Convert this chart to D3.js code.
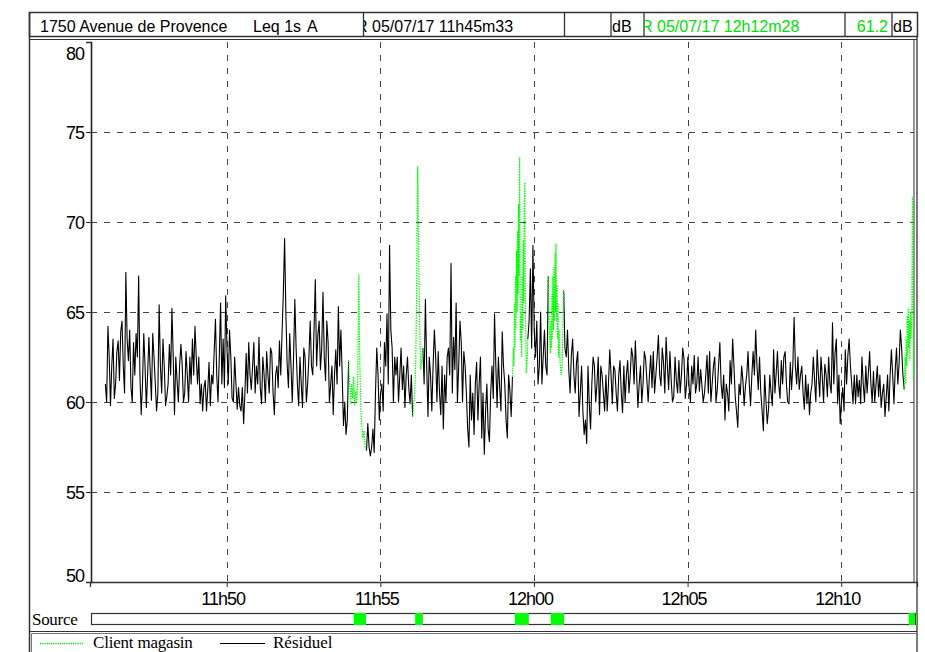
<!DOCTYPE html>
<html><head><meta charset="utf-8">
<script src="https://cdn.jsdelivr.net/npm/d3@7"></script>
<style>body{margin:0;background:#fff}svg{display:block}</style>
</head><body>
<svg id="c" width="925" height="652"></svg>
<script>
// ---------- data ----------
const titleText = "1750 Avenue de Provence";
const metricText = "Leq 1s";
const weightText = "A";
const startText = "R 05/07/17 11h45m33";
const endText = "R 05/07/17 12h12m28";
const laeqText = "61.2";
const unitText = "dB";
const yTicks = [50, 55, 60, 65, 70, 75, 80];
const xTickSec = [267, 567, 867, 1167, 1467];           // seconds after 11h45m33
const xTickLabels = ["11h50", "11h55", "12h00", "12h05", "12h10"];
const totalSec = 1615;                                  // 11h45m33 -> 12h12m28
const legendNames = ["Client magasin", "Résiduel"];

// Résiduel: one value every 5 s from 30 s after start (null = source period)
const residualStart = 30, residualStep = 5;
const residual = [
61.0,64.2,59.8,63.5,61.0,63.4,63.9,62.0,67.2,62.3,60.8,63.3,63.8,67.0,59.3,63.8,59.7,63.6,60.1,62.5,
59.5,65.4,60.5,62.0,60.3,63.2,65.2,59.3,61.2,62.0,62.1,60.5,61.5,62.5,
63.5,64.2,61.0,59.9,59.5,61.2,60.7,59.8,61.0,64.6,60.0,65.5,63.5,65.9,61.0,62.5,60.0,61.0,60.8,59.5,
58.8,62.7,63.3,60.7,63.3,62.0,63.6,59.9,61.5,62.8,60.5,62.7,59.3,62.0,63.4,63.8,69.1,62.1,63.8,60.0,
65.7,61.0,62.5,59.7,62.5,61.0,64.5,61.5,66.8,63.7,61.8,66.1,61.2,63.3,61.0,59.3,62.9,65.3,64.0,58.7,
58.2,62.3,null,null,null,null,null,null,57.3,57.5,57.5,57.2,63.0,59.0,61.0,63.3,64.9,68.7,63.0,62.5,
62.5,61.5,60.7,59.7,62.5,59.9,59.2,null,null,null,
63.0,65.7,59.2,61.5,62.0,62.5,62.8,59.3,58.5,60.0,63.0,67.7,63.6,65.5,62.0,63.3,62.8,60.5,57.5,59.0,
58.2,62.2,61.0,58.0,57.1,61.0,57.8,62.0,64.9,59.7,60.8,63.9,
61.0,58.0,60.6,61.4,null,null,null,null,null,63.5,67.4,68.7,62.5,61.0,65.0,62.5,62.0,67.0,
null,null,null,null,null,66.2,62.5,61.8,62.6,61.5,62.2,59.2,62.0,58.2,57.7,59.9,61.0,62.0,61.0,59.3,61.5,59.5,
59.5,62.9,59.9,61.8,59.5,62.3,59.4,60.0,62.3,61.5,62.5,63.4,59.7,62.0,61.0,62.4,60.0,62.6,62.8,61.5,
63.7,60.9,62.2,63.6,60.7,61.2,60.3,61.2,62.3,61.5,62.4,61.0,60.8,62.0,62.6,61.0,60.6,60.9,60.5,62.6,62.8,
61.0,62.5,60.7,63.3,60.2,59.0,60.5,62.3,63.5,60.3,58.6,60.4,61.2,60.9,62.8,59.8,62.8,64.0,60.7,60.5,
58.4,60.1,59.6,60.5,62.9,61.6,61.0,62.3,62.5,61.0,59.9,60.7,64.7,61.0,60.7,62.0,59.6,59.9,59.3,61.0,
61.2,62.9,60.3,61.4,62.1,60.3,61.0,64.4,62.7,59.9,58.8,60.8,62.9,62.6,62.0,59.9,59.9,60.3,59.9,61.0,
62.0,61.6,61.0,61.7,61.0,60.3,59.7,61.0,60.3,59.5,62.9,59.9,63.0,62.1,63.0,60.7
];
// Résiduel values read between the samples above (2.5 s later each)
const residualMid = [
60.0,62.5,62.0,60.2,62.8,61.2,64.5,60.5,63.5,64.0,60.0,61.5,62.5,61.5,61.0,62.0,61.5,61.8,63.8,61.0,
60.5,62.0,63.5,59.8,61.0,61.5,62.5,62.5,60.0,63.2,60.0,62.8,60.0,61.0,
61.5,62.5,62.5,61.0,60.8,59.5,62.2,61.5,62.8,61.5,62.5,61.0,60.8,63.0,64.0,60.2,62.5,59.6,59.8,60.8,
60.5,60.5,61.5,62.0,60.5,61.0,60.8,62.5,60.0,61.5,63.0,60.5,61.5,60.8,61.5,66.0,65.0,60.8,62.0,62.5,
63.0,59.8,61.0,63.0,60.0,62.5,62.0,64.0,62.0,64.5,63.0,62.5,64.5,60.0,62.0,61.5,61.0,62.0,61.5,60.0,59.0,
null,null,null,null,null,null,null,
58.8,57.0,58.5,60.5,61.5,60.5,59.5,62.0,61.0,64.0,60.0,61.5,
60.0,63.0,62.0,61.5,60.8,61.5,null,null,null,null,
61.0,62.0,62.5,59.5,64.0,60.0,60.5,62.0,61.5,62.5,61.5,60.5,61.8,60.0,64.5,60.0,62.0,58.5,61.5,60.5,
61.0,59.0,62.5,60.5,59.5,58.5,60.5,60.2,62.0,62.5,59.5,62.0,
59.0,61.5,59.2,null,null,null,null,null,null,64.5,63.0,64.0,64.5,62.0,61.0,64.0,61.5,
null,null,null,null,null,null,
63.0,64.0,60.5,63.5,60.5,62.8,60.5,59.5,59.0,62.0,58.5,62.5,60.0,62.5,62.0,60.5,61.5,
61.0,61.5,62.0,60.5,61.5,60.5,62.0,61.5,60.5,63.0,61.0,61.5,61.0,60.0,62.8,61.2,61.5,60.8,60.5,62.5,
61.5,63.0,60.5,62.0,62.8,60.0,62.5,60.5,60.5,63.0,60.2,62.5,60.0,61.0,60.5,62.5,61.8,60.0,61.5,60.5,60.0,
62.0,60.0,62.0,61.0,61.5,61.0,59.5,61.0,62.0,59.5,61.0,62.0,59.8,61.5,61.0,61.5,61.5,62.0,62.5,59.5,
61.5,58.8,61.5,59.8,60.5,62.8,60.2,61.0,62.8,60.0,62.2,62.0,62.0,62.5,61.5,60.5,61.5,61.0,60.5,62.5,
60.0,61.5,62.5,60.0,61.5,62.5,60.5,61.0,63.5,61.5,60.0,59.5,61.0,63.5,61.0,61.5,61.5,61.2,62.5,60.0,
60.5,62.8,60.0,60.0,62.0,61.5,60.5,59.2,61.5,61.5,61.5,61.8,61.0,64.0,61.5
];

// Client magasin periods (seconds, dB); null separates periods
const clientT = [
505,509,511,513,515,517,519,521,523,525,527,529,531,533,535,537,540, null,
630,632,634,636,638,640,642,644,646,648,650, null,
825,827,828,829,830,831,832,833,834,835,836,837,838,839,840,841,842,843,844,845,846,847,848,849,850,851,852,854,855, null,
895,897,899,900,901,902,903,904,905,906,907,908,909,910,911,912,913,914,915,916,918,920,922,925, null,
1590,1592,1593,1594,1595,1596,1597,1598,1599,1600,1601,1602,1603,1604,1605,1606,1607,1608
];
const clientV = [
62.3,59.9,61.0,60.2,61.4,59.8,60.6,60.0,61.5,67.1,62.0,59.5,58.6,58.0,58.4,57.5,57.3, null,
59.2,59.8,60.5,62.0,66.5,73.1,68.0,64.0,61.8,62.5,63.0, null,
61.4,63.0,62.0,65.5,63.0,67.0,64.0,68.4,65.0,69.5,66.0,71.0,67.0,73.6,66.0,63.4,65.0,62.5,67.0,64.0,69.0,65.5,71.0,72.2,66.0,64.0,61.6,62.5,63.5, null,
67.0,64.0,62.7,64.5,63.0,66.0,63.5,67.0,64.0,67.5,64.5,68.3,65.0,68.8,64.5,66.5,63.5,65.5,62.5,64.0,62.2,61.5,62.0,66.2, null,
60.7,62.5,61.0,63.5,62.0,64.8,62.5,65.2,63.0,64.5,62.3,65.0,63.5,64.0,65.5,71.4,66.0,61.2
];

// Source band (seconds)
const sourceStart = [515, 635, 830, 900, 1599];
const sourceEnd   = [539, 650, 857, 926, 1615];

// ---------- drawing ----------
const svg = d3.select("#c");
const sans = "'Liberation Sans', Arial, sans-serif";
const serif = "'Liberation Serif', 'Times New Roman', serif";
const green = "#00ff00", greenText = "#00e000";

const x = d3.scaleLinear().domain([0, totalSec]).range([90, 917]);
const y = d3.scaleLinear().domain([50, 80]).range([582, 42]);

svg.append("rect").attr("width", 925).attr("height", 652).attr("fill", "#fff");

const defs = svg.append("defs");
defs.append("clipPath").attr("id", "plotclip").append("rect")
  .attr("x", 91).attr("y", 40).attr("width", 823).attr("height", 542);
defs.append("clipPath").attr("id", "cellA").append("rect")
  .attr("x", 364).attr("y", 12).attr("width", 200).attr("height", 24);
defs.append("clipPath").attr("id", "cellB").append("rect")
  .attr("x", 644).attr("y", 12).attr("width", 200).attr("height", 24);

// ---- header ----
const hdr = svg.append("g");
hdr.append("rect").attr("x", 29.5).attr("y", 12.5).attr("width", 888).attr("height", 24)
  .attr("fill", "#fff").attr("stroke", "#333").attr("stroke-width", 1.5);
[363.5, 564.5, 611, 644, 845, 892].forEach(v =>
  hdr.append("line").attr("x1", v).attr("x2", v).attr("y1", 12.5).attr("y2", 36.5)
    .attr("stroke", "#333").attr("stroke-width", 1.3));
const ht = (txt, xx, col, anchor, clip) => {
  const t = hdr.append("text").attr("x", xx).attr("y", 31.5).text(txt)
    .attr("font-family", sans).attr("font-size", 16).attr("fill", col)
    .attr("text-anchor", anchor || "start");
  if (clip) t.attr("clip-path", `url(#${clip})`);
};
ht(titleText, 40, "#000");
ht(metricText, 253, "#000");
ht(weightText, 307, "#000");
ht(startText, 356, "#000", "start", "cellA");
ht(unitText, 612, "#000");
ht(endText, 641, greenText, "start", "cellB");
ht(laeqText, 888, greenText, "end");
ht(unitText, 893, "#000");

// ---- frame ----
const frame = svg.append("g").attr("stroke", "#333").attr("fill", "none");
frame.append("line").attr("x1", 29.5).attr("x2", 29.5).attr("y1", 12).attr("y2", 652).attr("stroke-width", 1.5);
frame.append("line").attr("x1", 29.5).attr("x2", 917).attr("y1", 39.5).attr("y2", 39.5);
frame.append("line").attr("x1", 917).attr("x2", 917).attr("y1", 36).attr("y2", 652).attr("stroke-width", 1.3);
frame.append("line").attr("x1", 914).attr("x2", 914).attr("y1", 40).attr("y2", 582);
frame.append("line").attr("x1", 29.5).attr("x2", 917).attr("y1", 631.5).attr("y2", 631.5);
frame.append("line").attr("x1", 31.5).attr("x2", 917).attr("y1", 633.5).attr("y2", 633.5).attr("stroke", "#777");
frame.append("line").attr("x1", 31.5).attr("x2", 31.5).attr("y1", 633.5).attr("y2", 652).attr("stroke", "#777");

// ---- grid ----
const grid = svg.append("g").attr("stroke", "#444").attr("stroke-width", 1).attr("stroke-dasharray", "6,7");
grid.selectAll("line.h").data(yTicks.filter(d => d > 50 && d < 80)).join("line")
  .attr("x1", 91).attr("x2", 914).attr("y1", d => Math.round(y(d)) + 0.5).attr("y2", d => Math.round(y(d)) + 0.5);
grid.selectAll("line.v").data(xTickSec).join("line")
  .attr("x1", d => Math.round(x(d)) + 0.5).attr("x2", d => Math.round(x(d)) + 0.5)
  .attr("y1", 42).attr("y2", 582);

// ---- axes ----
const yAxis = svg.append("g").attr("transform", "translate(91,0)")
  .call(d3.axisLeft(y).tickValues(yTicks).tickSize(5).tickPadding(3).tickFormat(d3.format("d")));
yAxis.select(".domain").attr("stroke", "#222").attr("stroke-width", 1.6);
yAxis.selectAll(".tick line").attr("stroke", "#333");
yAxis.selectAll("text").attr("font-family", sans).attr("font-size", 18).attr("fill", "#000")
  .attr("letter-spacing", "-1px").attr("x", -7)
  .attr("dy", d => d === 80 ? "0.95em" : (d === 50 ? "-0.05em" : "0.35em"));

const xAxis = svg.append("g").attr("transform", "translate(0,582)")
  .call(d3.axisBottom(x).tickValues(xTickSec).tickSize(5).tickFormat((d, i) => xTickLabels[i]));
xAxis.select(".domain").attr("stroke", "#333").attr("stroke-width", 1.3);
xAxis.selectAll(".tick line").attr("stroke", "#333");
xAxis.selectAll("text").attr("font-family", sans).attr("font-size", 18).attr("fill", "#000")
  .attr("letter-spacing", "-1px").attr("x", -4).attr("y", 23).attr("dy", 0);

// ---- series ----
const resData = [];
residual.forEach((v, i) => {
  const t = residualStart + i * residualStep;
  resData.push({ t, v });
  if (i < residualMid.length) resData.push({ t: t + residualStep / 2, v: residualMid[i] });
});
const cliData = clientT.map((t, i) => ({ t, v: clientV[i] }));
const line = d3.line().defined(d => d.t !== null && d.v !== null).x(d => x(d.t)).y(d => y(d.v));

const plot = svg.append("g").attr("clip-path", "url(#plotclip)");
plot.append("path").datum(resData).attr("d", line).attr("fill", "none")
  .attr("stroke", "#000").attr("stroke-width", 1.1).attr("stroke-linejoin", "round");
plot.append("path").datum(cliData).attr("d", line).attr("fill", "none")
  .attr("stroke", green).attr("stroke-width", 1.2).attr("stroke-dasharray", "1.5,1");

// ---- source band ----
svg.append("text").attr("x", 32).attr("y", 625).text("Source")
  .attr("font-family", serif).attr("font-size", 17).attr("letter-spacing", "-0.3px").attr("fill", "#000");
svg.append("rect").attr("x", 91.5).attr("y", 613.5).attr("width", 825).attr("height", 11)
  .attr("fill", "#fff").attr("stroke", "#333").attr("stroke-width", 1.2);
svg.selectAll("rect.src").data(sourceStart).join("rect").attr("class", "src")
  .attr("x", d => x(d)).attr("width", (d, i) => x(sourceEnd[i]) - x(d))
  .attr("y", 613).attr("height", 12).attr("fill", green);
svg.append("line").attr("x1", 915.5).attr("x2", 915.5).attr("y1", 613).attr("y2", 625).attr("stroke", "#222");

// ---- legend ----
const lg = svg.append("g");
lg.append("line").attr("x1", 40).attr("x2", 83).attr("y1", 643.5).attr("y2", 643.5)
  .attr("stroke", "#00e800").attr("stroke-width", 1.3).attr("stroke-dasharray", "1.2,1");
lg.append("text").attr("x", 93).attr("y", 648).text(legendNames[0])
  .attr("font-family", serif).attr("font-size", 17).attr("letter-spacing", "-0.2px").attr("fill", "#000");
lg.append("line").attr("x1", 220).attr("x2", 265).attr("y1", 643.5).attr("y2", 643.5)
  .attr("stroke", "#000").attr("stroke-width", 1.2);
lg.append("text").attr("x", 273).attr("y", 648).text(legendNames[1])
  .attr("font-family", serif).attr("font-size", 17).attr("fill", "#000");
</script>
</body></html>
